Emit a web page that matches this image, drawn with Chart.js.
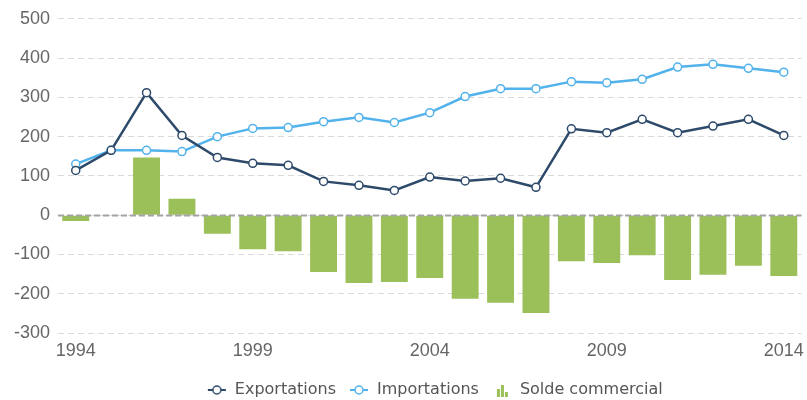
<!DOCTYPE html>
<html>
<head>
<meta charset="utf-8">
<script src="https://cdn.jsdelivr.net/npm/chart.js@4"></script>
<style>
  html, body { margin: 0; padding: 0; background: #fff; }
  #wrap { width: 807px; height: 400px; }
</style>
</head>
<body>
<div id="wrap"><canvas id="tradeChart"></canvas></div>
<script>
// data
var years = [];
for (var y = 1994; y <= 2014; y++) years.push(String(y));

var exportations = [114, 165, 312, 203, 147, 132, 127, 86, 76, 63, 97, 87, 94, 71, 220, 210, 244, 210, 227, 244, 203];
var importations = [130, 165, 165, 162, 200, 221, 223, 238, 249, 236, 261, 302, 322, 322, 340, 337, 346, 377, 384, 374, 364];
var solde = [-15, 0, 147, 42, -47, -87, -92, -145, -173, -170, -160, -213, -223, -249, -117, -122, -102, -165, -152, -129, -155];

var yTicks = [-300, -200, -100, 0, 100, 200, 300, 400, 500];

var navy = '#2e4a6b';
var skyBlue = '#52b2ec';
var green = '#9bbf59';

// legend icons (blank room on the left gives the gap between items)
function lineIcon(color) {
  var c = document.createElement('canvas');
  c.width = 30; c.height = 12;
  var g = c.getContext('2d');
  g.strokeStyle = color;
  g.lineWidth = 2;
  g.beginPath(); g.moveTo(11, 6); g.lineTo(29, 6); g.stroke();
  g.fillStyle = '#fff';
  g.lineWidth = 1.5;
  g.beginPath(); g.arc(20, 6, 4, 0, Math.PI * 2); g.fill(); g.stroke();
  return c;
}
function barIcon(color) {
  var c = document.createElement('canvas');
  c.width = 30; c.height = 16;
  var g = c.getContext('2d');
  g.fillStyle = color;
  g.fillRect(15, 7, 3, 8);
  g.fillRect(19, 3, 3, 12);
  g.fillRect(23, 10, 3, 5);
  return c;
}
var icons = [lineIcon(navy), lineIcon(skyBlue), barIcon(green)];

var zeroLine = {
  id: 'zeroLine',
  afterDatasetsDraw: function (chart) {
    var ys = chart.scales.y, area = chart.chartArea, ctx = chart.ctx;
    var py = Math.round(ys.getPixelForValue(0)) + 0.5;
    ctx.save();
    ctx.strokeStyle = '#a3a3a3';
    ctx.lineWidth = 2;
    ctx.setLineDash([6, 3]);
    ctx.beginPath(); ctx.moveTo(area.left, py); ctx.lineTo(area.right, py); ctx.stroke();
    ctx.restore();
  }
};

var ctx = document.getElementById('tradeChart');
var tradeChart = new Chart(ctx, {
  data: {
    labels: years,
    datasets: [{
      type: 'line',
      label: 'Exportations',
      data: exportations,
      borderColor: navy,
      backgroundColor: '#fff',
      borderWidth: 2.5,
      pointRadius: 4,
      pointBorderWidth: 1.5,
      pointBackgroundColor: '#fff',
      pointBorderColor: navy,
      tension: 0,
      order: 0
    }, {
      type: 'line',
      label: 'Importations',
      data: importations,
      borderColor: skyBlue,
      backgroundColor: '#fff',
      borderWidth: 2.5,
      pointRadius: 4,
      pointBorderWidth: 1.5,
      pointBackgroundColor: '#fff',
      pointBorderColor: skyBlue,
      tension: 0,
      order: 1
    }, {
      type: 'bar',
      label: 'Solde commercial',
      data: solde,
      backgroundColor: green,
      categoryPercentage: 1,
      barPercentage: 0.76,
      order: 2
    }]
  },
  options: {
    responsive: true,
    maintainAspectRatio: false,
    animation: false,
    layout: { padding: { left: 6, right: 0, top: 8, bottom: -8 } },
    scales: {
      x: {
        offset: true,
        grid: { display: false, drawTicks: true, tickLength: 7 },
        border: { display: false },
        afterFit: function (scale) { scale.height = 46; },
        ticks: {
          autoSkip: false,
          maxRotation: 0,
          padding: 0,
          color: '#666',
          font: { family: 'Liberation Sans', size: 18 },
          callback: function (val, i) { return i % 5 === 0 ? this.getLabelForValue(val) : ''; }
        }
      },
      y: {
        min: -300,
        max: 500,
        afterBuildTicks: function (scale) {
          scale.ticks = yTicks.map(function (v) { return { value: v }; });
        },
        grid: {
          color: '#d9d9d9',
          lineWidth: 1,
          drawTicks: false
        },
        border: { display: false, dash: [6, 4] },
        ticks: {
          padding: 8,
          color: '#666',
          font: { family: 'Liberation Sans', size: 18 }
        }
      }
    },
    plugins: {
      tooltip: { enabled: false },
      legend: {
        position: 'bottom',
        fullSize: false,
        labels: {
          usePointStyle: true,
          pointStyleWidth: 30,
          padding: 3,
          color: '#555',
          font: { family: 'DejaVu Sans', size: 16 },
          generateLabels: function (chart) {
            var items = Chart.defaults.plugins.legend.labels.generateLabels(chart);
            items.forEach(function (it) { it.pointStyle = icons[it.datasetIndex]; });
            return items;
          }
        }
      }
    }
  },
  plugins: [zeroLine]
});
</script>
</body>
</html>
